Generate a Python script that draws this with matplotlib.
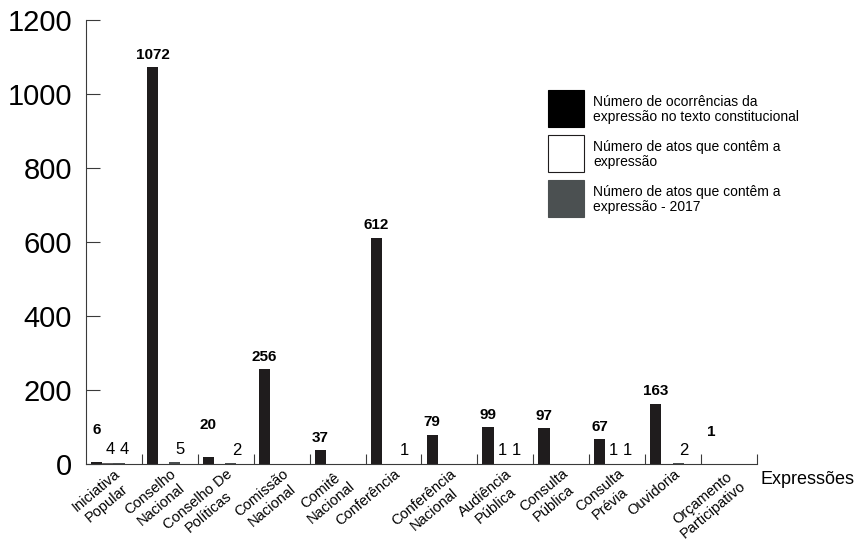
import numpy as np
import matplotlib
matplotlib.use('Agg')
import matplotlib.pyplot as plt
from matplotlib.patches import Rectangle
from matplotlib.transforms import ScaledTranslation

plt.rcParams['font.family'] = ['Liberation Sans', 'DejaVu Sans']

# categorias (eixo x)
expressoes = ['Iniciativa\nPopular', 'Conselho\nNacional', 'Conselho De\nPolíticas',
              'Comissão\nNacional', 'Comitê\nNacional', 'Conferência',
              'Conferência\nNacional', 'Audiência\nPública', 'Consulta\nPública',
              'Consulta\nPrévia', 'Ouvidoria', 'Orçamento\nParticipativo']

# series
constitucional = [6, 1072, 20, 256, 37, 612, 79, 99, 97, 67, 163, 1]
atos = [4, 0, 0, 0, 0, 0, 0, 1, 0, 1, 0, 0]
atos_2017 = [4, 5, 2, 0, 0, 1, 0, 1, 0, 1, 2, 0]

legend_labels = ['Número de ocorrências da\nexpressão no texto constitucional',
                 'Número de atos que contêm a\nexpressão',
                 'Número de atos que contêm a\nexpressão - 2017']

BLACK = '#1f1c1d'
GRAY = '#4b5051'
AXIS = '#3a3a3a'
W, H = 865, 541

fig = plt.figure(figsize=(8.65, 5.41), dpi=100)
ax = fig.add_axes([86 / W, 1 - 464 / H, (757 - 86) / W, (464 - 20) / H])

x = np.arange(len(expressoes))
w = 0.2
b1 = ax.bar(x - 0.31, constitucional, w, color=BLACK, linewidth=0)
b2 = ax.bar(x - 0.11, atos, w, color='white', edgecolor=BLACK, linewidth=0.5)
b3 = ax.bar(x + 0.09, atos_2017, w, color=GRAY, linewidth=0)

# rotulos de valor
for rect, v in zip(b1, constitucional):
    off = 18 if v < 30 else 4
    ax.annotate(str(v), (rect.get_x() + rect.get_width() / 2, v),
                xytext=(0, off), textcoords='offset points',
                ha='center', va='bottom', fontsize=11, fontweight='bold')
for bars, vals, dx in [(b2, atos, 2), (b3, atos_2017, 4)]:
    for rect, v in zip(bars, vals):
        if v > 0:
            ax.annotate(str(v), (rect.get_x() + rect.get_width() / 2, v),
                        xytext=(dx, 4), textcoords='offset points',
                        ha='center', va='bottom', fontsize=12)

ax.set_xlim(-0.5, len(expressoes) - 0.5)
ax.set_ylim(0, 1200)
ax.set_yticks([0, 200, 400, 600, 800, 1000, 1200])

ax.set_xticks(x)
ax.set_xticklabels(expressoes, rotation=40, ha='right', rotation_mode='anchor',
                   multialignment='center', fontsize=10.5)
shift = ScaledTranslation(9 / 72, 0, fig.dpi_scale_trans)
for lab in ax.get_xticklabels():
    lab.set_transform(lab.get_transform() + shift)
ax.set_xticks(np.arange(0.5, len(expressoes)), minor=True)
ax.tick_params(axis='x', which='major', length=0, pad=2)
ax.tick_params(axis='x', which='minor', direction='in', length=7,
               width=0.8, color=AXIS)
ax.tick_params(axis='y', direction='in', length=10, width=0.8, color=AXIS,
               pad=10, labelsize=21)

for s in ['top', 'right']:
    ax.spines[s].set_visible(False)
for s in ['left', 'bottom']:
    ax.spines[s].set_color(AXIS)
    ax.spines[s].set_linewidth(0.8)

fig.text(760 / W, 1 - 480 / H, 'Expressões', ha='left', va='center',
         fontsize=13)

# legenda
faces = ['black', 'white', GRAY]
edges = ['black', BLACK, GRAY]
for i, (lab, fc, ec) in enumerate(zip(legend_labels, faces, edges)):
    top = 90 + 45 * i
    fig.add_artist(Rectangle((548 / W, 1 - (top + 37) / H), 36 / W, 37 / H,
                             facecolor=fc, edgecolor=ec, linewidth=0.8,
                             transform=fig.transFigure))
    fig.text(593 / W, 1 - (top + 19.5) / H, lab, ha='left', va='center',
             fontsize=10, linespacing=1.05)

fig.savefig('out.png', dpi=100)
